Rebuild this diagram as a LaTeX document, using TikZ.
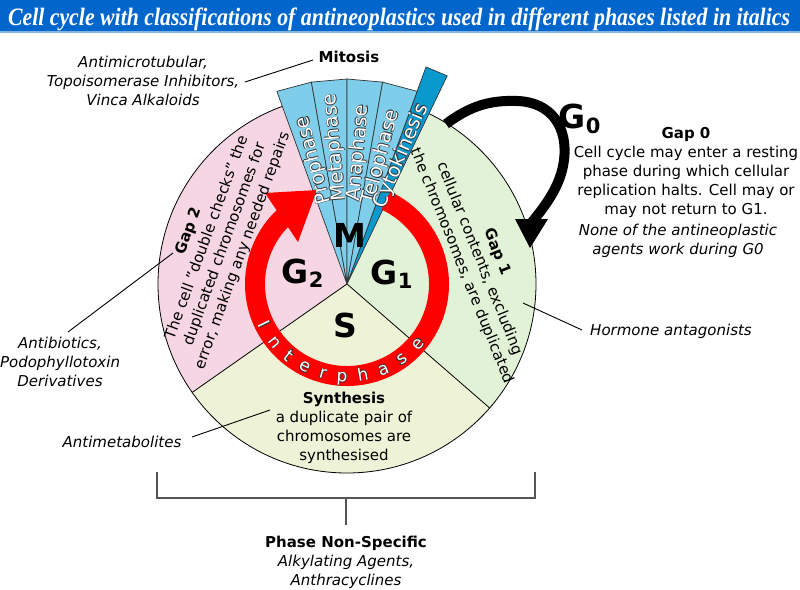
\documentclass[tikz,border=0pt]{standalone}
\usepackage{fontspec}
\usepackage{graphicx}
\setmainfont{DejaVu Sans}
\newfontfamily\titlefont{Liberation Serif}
\usetikzlibrary{calc}
\definecolor{gtwo}{HTML}{F5D6E2}
\definecolor{gone}{HTML}{E2F2D6}
\definecolor{sph}{HTML}{EEF2D6}
\definecolor{mph}{HTML}{7ECEEB}
\definecolor{cyto}{HTML}{0A99CC}
\definecolor{titlebar}{HTML}{0066CC}
\definecolor{titleline}{HTML}{7FB6E6}
\definecolor{olc}{HTML}{333333}
\definecolor{brk}{HTML}{555555}
\newcommand{\olt}[1]{\leavevmode
  \rlap{\raisebox{0.55pt}{\textcolor{olc}{#1}}}%
  \rlap{\raisebox{-0.55pt}{\textcolor{olc}{#1}}}%
  \rlap{\hspace{0.55pt}\textcolor{olc}{#1}}%
  \rlap{\hspace{-0.55pt}\textcolor{olc}{#1}}%
  \textcolor{white}{#1}}
\tikzset{
  lbl/.style={font=\fontsize{15}{19}\selectfont, align=center, inner sep=0pt},
  ital/.style={font=\fontsize{15}{19}\selectfont\itshape, align=center, inner sep=0pt},
  bigletter/.style={font=\fontsize{33}{33}\selectfont\bfseries, inner sep=0pt},
  wedgelabel/.style={font=\fontsize{19.5}{20}\selectfont, inner sep=0pt, anchor=west},
  ringletter/.style={font=\fontsize{17}{17}\selectfont, inner sep=0pt, anchor=base},
  leader/.style={draw=black, line width=0.9pt},
  sector/.style={draw=black, line width=0.8pt},
  mwedge/.style={fill=mph, draw=olc, line width=0.7pt},
}
\begin{document}
\begin{tikzpicture}[x=1pt,y=1pt]
\useasboundingbox (0,0) rectangle (800,-589);
\fill[white] (0,0) rectangle (800,-589);
% title bar
\fill[titlebar] (0,0) rectangle (800,-31);
\fill[titleline] (0,-31) rectangle (800,-33);
\node[anchor=base, inner sep=0pt, text=white] (title) at (399,-25)
  {\resizebox{782pt}{\height}{\titlefont\fontsize{25}{30}\selectfont\bfseries\itshape Cell cycle with classifications of antineoplastics used in different phases listed in italics}};
% circle sectors
\coordinate (C) at (347,-284);
\fill[gtwo] (C) -- ++(110:189) arc[start angle=110, end angle=215, radius=189] -- cycle;
\fill[sph] (C) -- ++(215:189) arc[start angle=215, end angle=319, radius=189] -- cycle;
\fill[gone] (C) -- ++(-41:189) arc[start angle=-41, end angle=64, radius=189] -- cycle;
\draw[sector] (C) circle[radius=189];
\draw[sector] (C) -- ++(215:189);
\draw[sector] (C) -- ++(-41:189);
% mitosis wedges
\filldraw[fill=cyto, draw=olc, line width=0.7pt] (C) -- ($(C)+(64.3:231)$) -- ($(C)+(70:231)$) -- cycle;
\foreach \a/\b in {100/110, 90/100, 80/90, 70/80}
  \filldraw[mwedge] (C) -- ($(C)+(\a:205)$) -- ($(C)+(\b:205)$) -- cycle;
% interphase ring
\draw[red, line width=20pt] ($(C)+(65:92)$) arc[start angle=65, end angle=-227, radius=92];
\fill[red] (265,-193) -- (317,-190) -- (298,-242) -- cycle;
% wedge labels
\node[wedgelabel, rotate=105] (pro) at ($(C)+(105:83)$) {\olt{Prophase}};
\node[wedgelabel, rotate=95] (meta) at ($(C)+(95:83)$) {\olt{Metaphase}};
\node[wedgelabel, rotate=85] (ana) at ($(C)+(85:83)$) {\olt{Anaphase}};
\node[wedgelabel, rotate=75] (telo) at ($(C)+(75:83)$) {\olt{Telophase}};
\node[wedgelabel, rotate=67] (cyt) at ($(C)+(67:83)$) {\olt{Cytokinesis}};
% Interphase letters
\foreach \ang/\l [count=\i] in {206/I, 219/n, 231/t, 243/e, 255/r, 267/p, 280/h, 293/a, 306/s, 320/e}
  \node[ringletter, rotate=\ang+90] (ip\i) at ($(C)+(\ang:98)$) {\olt{\l}};
% big phase letters
\node[bigletter, anchor=base] (M) at (350,-247) {M};
\node[bigletter, anchor=base west] (G2) at (281.5,-283) {G\raisebox{-4pt}{\fontsize{21}{21}\selectfont 2}};
\node[bigletter, anchor=base west] (G1) at (370.5,-284) {G\raisebox{-4pt}{\fontsize{21}{21}\selectfont 1}};
\node[bigletter, anchor=base] (S) at (345,-337) {S};
% G0 loop
\coordinate (g0s) at (446,-124);
\coordinate (g0e) at (532,-222);
\draw[line width=10pt] (g0s) .. controls (470,-106) and (490,-100) .. (517,-101)
   .. controls (552,-102) and (568,-128) .. (564,-160)
   .. controls (561,-185) and (546,-205) .. (g0e);
\fill (515,-219) -- (548,-219) -- (530,-248) -- cycle;
\node[bigletter, anchor=base west] (G0) at (558.5,-128) {G\raisebox{-5pt}{\fontsize{21}{21}\selectfont 0}};
% text blocks
\node[lbl] (mitosis) at (349,-57) {\textbf{Mitosis}};
\node[ital] (antimicro) at (143,-81) {Antimicrotubular,\\Topoisomerase Inhibitors,\\Vinca Alkaloids};
\node[lbl] (gap0) at (686,-172) {\textbf{Gap 0}\\Cell cycle may enter a resting\\phase during which cellular\\replication halts. Cell may or\\may not return to G1.};
\node[ital] (none) at (678,-241) {None of the antineoplastic\\agents work during G0};
\node[lbl, rotate=-68] (gap1) at (479.5,-259) {\textbf{Gap 1}\\cellular contents, excluding\\the chromosomes, are duplicated};
\node[lbl, rotate=70] (gap2) at (216,-241) {\textbf{Gap 2}\\The cell "double checks" the\\duplicated chromosomes for\\error, making any needed repairs};
\node[ital] (antibio) at (60,-362) {Antibiotics,\\Podophyllotoxin\\Derivatives};
\node[ital] (antimet) at (122,-442) {Antimetabolites};
\node[ital] (hormone) at (671,-331) {Hormone antagonists};
\node[lbl] (synth) at (344,-428) {\textbf{Synthesis}\\a duplicate pair of\\chromosomes are\\synthesised};
\node[lbl] (phase) at (346,-562) {\textbf{Phase Non-Specific}\\\textit{Alkylating Agents,}\\\textit{Anthracyclines}};
% leader lines
\coordinate (l1a) at (245,-82); \coordinate (l1b) at (313,-60);
\coordinate (l2a) at (173,-253); \coordinate (l2b) at (68,-332);
\coordinate (l3a) at (192,-437); \coordinate (l3b) at (270,-410);
\coordinate (l4a) at (523,-303); \coordinate (l4b) at (582,-330);
\draw[leader] (l1a) -- (l1b);
\draw[leader] (l2a) -- (l2b);
\draw[leader] (l3a) -- (l3b);
\draw[leader] (l4a) -- (l4b);
% bracket
\coordinate (bl) at (157,-472); \coordinate (br) at (535,-472);
\coordinate (bm) at (346,-498); \coordinate (bt) at (346,-525);
\draw[brk, line width=1.3pt] (bl) -- (157,-498) -- (535,-498) -- (br);
\draw[brk, line width=1.3pt] (bm) -- (bt);
\end{tikzpicture}
\end{document}
